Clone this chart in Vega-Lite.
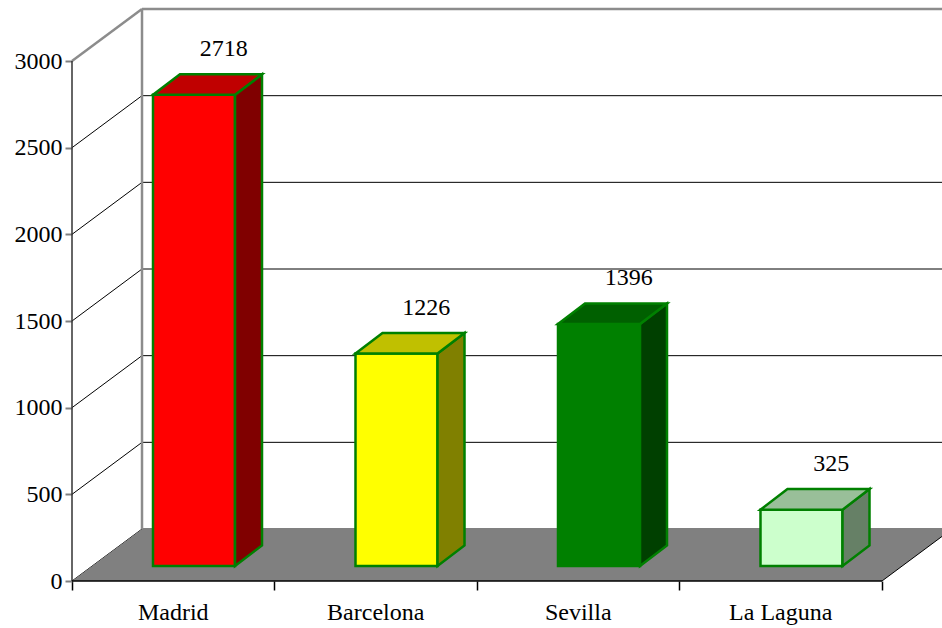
{
  "$schema": "https://vega.github.io/schema/vega-lite/v6.json",
  "width": 870,
  "height": 581,
  "autosize": {"type": "none"},
  "padding": {"left": 72, "top": 0, "right": 0, "bottom": 47},
  "background": "white",
  "config": {
    "view": {"stroke": null},
    "font": "Liberation Serif",
    "axis": {"grid": false, "domain": false, "title": null},
    "axisX": {"labels": false, "ticks": true, "tickSize": 9, "tickColor": "#000000", "tickWidth": 1.5},
    "axisY": {"tickSize": 7, "tickColor": "#808080", "tickWidth": 2, "labelFont": "Liberation Serif", "labelFontSize": 24, "labelColor": "#000000", "labelPadding": 3}
  },
  "datasets": {
    "cities": [
      {"city": "Madrid", "value": 2718},
      {"city": "Barcelona", "value": 1226},
      {"city": "Sevilla", "value": 1396},
      {"city": "La Laguna", "value": 325}
    ],
    "levels": [
      {"v": 0}, {"v": 500}, {"v": 1000}, {"v": 1500}, {"v": 2000}, {"v": 2500}, {"v": 3000}
    ]
  },
  "resolve": {"scale": {"color": "independent"}},
  "layer": [
    {
      "data": {"name": "levels"},
      "transform": [{"calculate": "datum.v + 300", "as": "vb"}],
      "mark": {"type": "rule", "clip": true},
      "encoding": {
        "x": {"datum": 0.3457, "type": "quantitative", "title": null,
          "scale": {"domain": [0, 4.2963], "nice": false, "zero": false},
          "axis": {"values": [0, 1, 2, 3, 4], "labels": false, "domain": false, "grid": false, "title": null}},
        "x2": {"datum": 4.4},
        "y": {"field": "vb", "type": "quantitative", "title": null,
          "scale": {"domain": [0, 3352], "nice": false, "zero": false},
          "axis": {"values": [0, 500, 1000, 1500, 2000, 2500, 3000], "format": "d", "domain": false, "grid": false, "title": null}},
        "stroke": {"condition": {"test": "datum.v == 3000", "value": "#8c8c8c"}, "value": "#000000"},
        "strokeWidth": {"condition": {"test": "datum.v == 3000", "value": 2.5}, "value": 1}
      }
    },
    {
      "data": {"name": "levels"},
      "transform": [{"calculate": "datum.v + 300", "as": "vb"}],
      "mark": {"type": "rule"},
      "encoding": {
        "x": {"datum": 0, "type": "quantitative", "title": null},
        "x2": {"datum": 0.3457},
        "y": {"field": "v", "type": "quantitative", "title": null},
        "y2": {"field": "vb"},
        "stroke": {"condition": {"test": "datum.v == 3000", "value": "#8c8c8c"}, "value": "#000000"},
        "strokeWidth": {"condition": {"test": "datum.v == 3000", "value": 2.5}, "value": 1}
      }
    },
    {
      "data": {"name": "levels"},
      "transform": [{"filter": "datum.v == 0"}],
      "mark": {"type": "rule", "color": "#8c8c8c", "strokeWidth": 2.5},
      "encoding": {
        "x": {"datum": 0.3457, "type": "quantitative", "title": null},
        "y": {"datum": 300, "type": "quantitative", "title": null},
        "y2": {"datum": 3300}
      }
    },
    {
      "data": {"values": [{"k": 0}, {"k": 1}]},
      "transform": [
        {"calculate": "datum.k * 300", "as": "fy"},
        {"calculate": "datum.k * 0.3457", "as": "fx0"},
        {"calculate": "4 + datum.k * 0.3457", "as": "fx1"}
      ],
      "mark": {"type": "area", "orient": "horizontal", "color": "#808080", "clip": true},
      "encoding": {
        "y": {"field": "fy", "type": "quantitative", "title": null},
        "x": {"field": "fx0", "type": "quantitative", "title": null},
        "x2": {"field": "fx1"}
      }
    },
    {
      "data": {"name": "levels"},
      "transform": [{"filter": "datum.v == 0"}],
      "mark": {"type": "rule", "color": "#000000", "strokeWidth": 1, "clip": true},
      "encoding": {
        "x": {"datum": 4, "type": "quantitative", "title": null},
        "x2": {"datum": 4.3457},
        "y": {"datum": 0, "type": "quantitative", "title": null},
        "y2": {"datum": 300}
      }
    },
    {
      "data": {"name": "levels"},
      "transform": [{"filter": "datum.v == 0"}],
      "mark": {"type": "rule", "color": "#333333", "strokeWidth": 1.5},
      "encoding": {
        "x": {"datum": 0, "type": "quantitative", "title": null},
        "y": {"datum": 0, "type": "quantitative", "title": null},
        "y2": {"datum": 3000}
      }
    },
    {
      "data": {"name": "levels"},
      "transform": [{"filter": "datum.v == 0"}],
      "mark": {"type": "rule", "color": "#000000", "strokeWidth": 1.5},
      "encoding": {
        "x": {"datum": 0, "type": "quantitative", "title": null},
        "x2": {"datum": 4},
        "y": {"datum": 0, "type": "quantitative", "title": null}
      }
    },
    {
      "data": {"name": "cities"},
      "transform": [
        {"window": [{"op": "row_number", "as": "rn"}]},
        {"calculate": "datum.rn - 1", "as": "i"},
        {"calculate": "datum.i + 0.4", "as": "x0"},
        {"calculate": "datum.i + 0.805", "as": "x1"},
        {"calculate": "datum.value + 86.7", "as": "yt"}
      ],
      "mark": {"type": "rect", "stroke": "#008000", "strokeWidth": 2.5, "strokeJoin": "miter"},
      "encoding": {
        "x": {"field": "x0", "type": "quantitative", "title": null},
        "x2": {"field": "x1"},
        "y": {"field": "yt", "type": "quantitative", "title": null},
        "y2": {"datum": 86.7},
        "color": {"field": "city", "type": "nominal", "legend": null,
          "scale": {"domain": ["Madrid", "Barcelona", "Sevilla", "La Laguna"], "range": ["#FF0000", "#FFFF00", "#008000", "#CCFFCC"]}}
      }
    },
    {
      "data": {"name": "cities"},
      "transform": [
        {"window": [{"op": "row_number", "as": "rn"}]},
        {"calculate": "datum.rn - 1", "as": "i"},
        {"calculate": "[0, 1]", "as": "k"},
        {"flatten": ["k"]},
        {"calculate": "datum.i + 0.805 + datum.k * 0.1333", "as": "xs"},
        {"calculate": "86.7 + datum.k * 118.5", "as": "yb"},
        {"calculate": "datum.value + 86.7 + datum.k * 118.5", "as": "ytt"}
      ],
      "mark": {"type": "area", "orient": "vertical", "stroke": "#008000", "strokeWidth": 2.5, "strokeJoin": "miter"},
      "encoding": {
        "x": {"field": "xs", "type": "quantitative", "title": null},
        "y": {"field": "ytt", "type": "quantitative", "title": null},
        "y2": {"field": "yb"},
        "detail": {"field": "city"},
        "color": {"field": "city", "type": "nominal", "legend": null,
          "scale": {"domain": ["Madrid", "Barcelona", "Sevilla", "La Laguna"], "range": ["#800000", "#808000", "#004000", "#668066"]}}
      }
    },
    {
      "data": {"name": "cities"},
      "transform": [
        {"window": [{"op": "row_number", "as": "rn"}]},
        {"calculate": "datum.rn - 1", "as": "i"},
        {"calculate": "[0, 1]", "as": "k"},
        {"flatten": ["k"]},
        {"calculate": "datum.i + 0.4 + datum.k * 0.1333", "as": "xa"},
        {"calculate": "datum.i + 0.805 + datum.k * 0.1333", "as": "xb"},
        {"calculate": "datum.value + 86.7 + datum.k * 118.5", "as": "ytt"}
      ],
      "mark": {"type": "area", "orient": "horizontal", "stroke": "#008000", "strokeWidth": 2.5, "strokeJoin": "miter"},
      "encoding": {
        "y": {"field": "ytt", "type": "quantitative", "title": null},
        "x": {"field": "xa", "type": "quantitative", "title": null},
        "x2": {"field": "xb"},
        "detail": {"field": "city"},
        "color": {"field": "city", "type": "nominal", "legend": null,
          "scale": {"domain": ["Madrid", "Barcelona", "Sevilla", "La Laguna"], "range": ["#C00000", "#C0C000", "#006000", "#99BF99"]}}
      }
    },
    {
      "data": {"name": "cities"},
      "transform": [
        {"window": [{"op": "row_number", "as": "rn"}]},
        {"calculate": "datum.rn - 1 + 0.75", "as": "lx"},
        {"calculate": "datum.value + 310", "as": "ly"}
      ],
      "mark": {"type": "text", "font": "Liberation Serif", "fontSize": 24, "color": "#000000", "align": "center", "baseline": "alphabetic"},
      "encoding": {
        "x": {"field": "lx", "type": "quantitative", "title": null},
        "y": {"field": "ly", "type": "quantitative", "title": null},
        "text": {"field": "value", "type": "quantitative"}
      }
    },
    {
      "data": {"name": "cities"},
      "transform": [
        {"window": [{"op": "row_number", "as": "rn"}]},
        {"calculate": "datum.rn - 1 + 0.5", "as": "cx"}
      ],
      "mark": {"type": "text", "font": "Liberation Serif", "fontSize": 24, "color": "#000000", "align": "center", "baseline": "alphabetic", "dy": 39},
      "encoding": {
        "x": {"field": "cx", "type": "quantitative", "title": null},
        "y": {"datum": 0, "type": "quantitative", "title": null},
        "text": {"field": "city", "type": "nominal"}
      }
    }
  ]
}
